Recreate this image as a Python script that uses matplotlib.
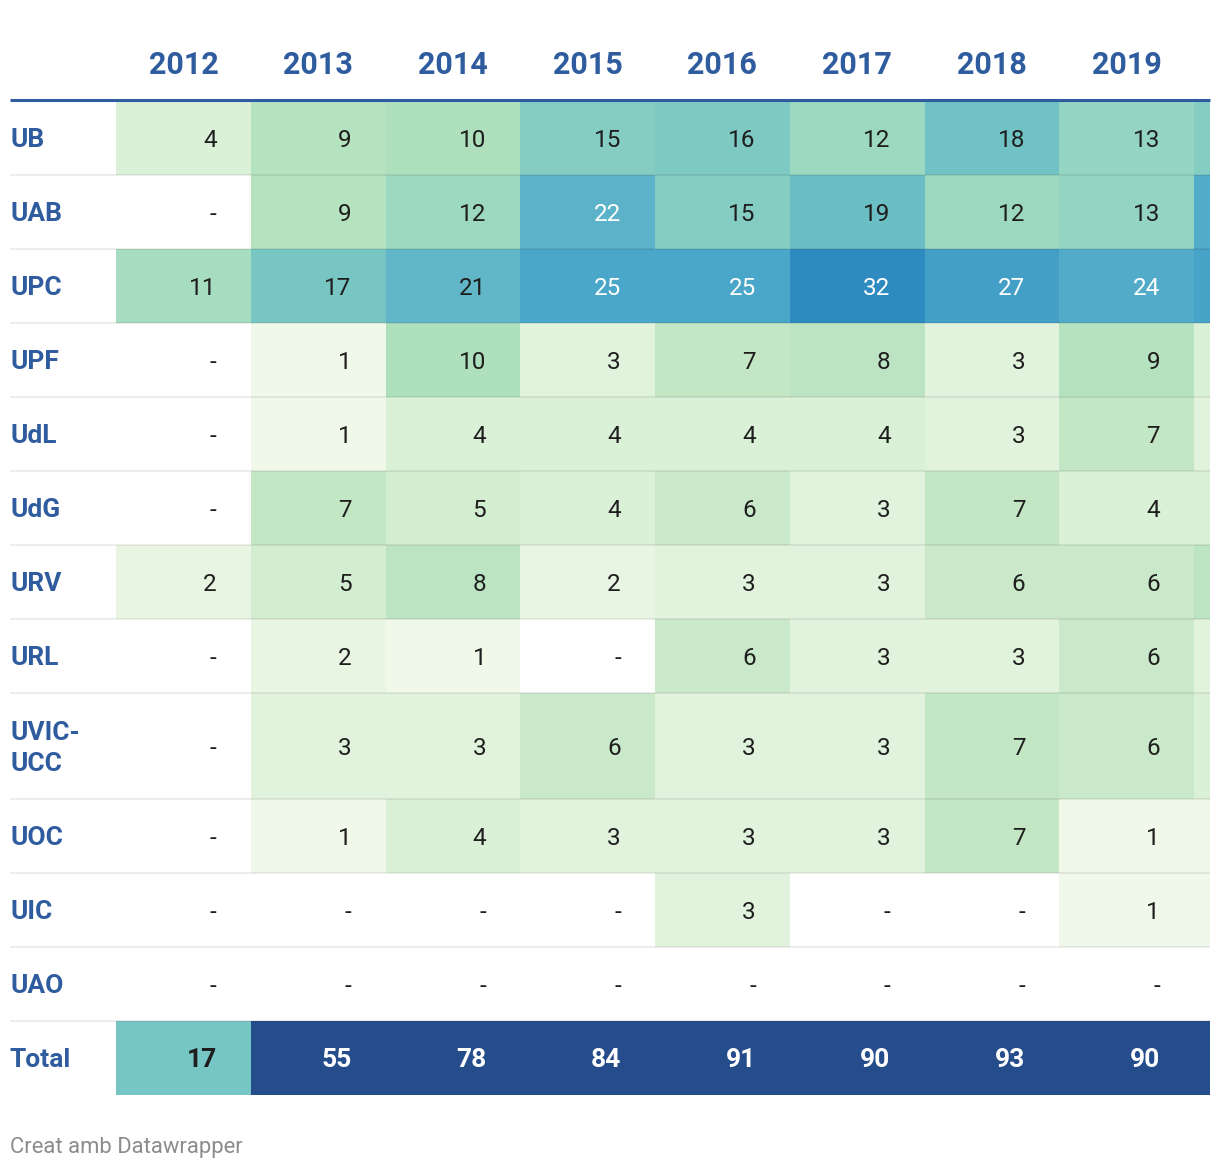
import numpy as np
import matplotlib
matplotlib.use('Agg')
import matplotlib.pyplot as plt
from matplotlib.colors import LinearSegmentedColormap, ListedColormap, BoundaryNorm, Normalize
from matplotlib.patches import Rectangle

plt.rcParams['font.family'] = ['Roboto', 'DejaVu Sans']

# data (0 = no value, shown as "-"); 2020 column is cut off at the right edge
years = ['2012', '2013', '2014', '2015', '2016', '2017', '2018', '2019', '2020']
universities = ['UB', 'UAB', 'UPC', 'UPF', 'UdL', 'UdG', 'URV', 'URL',
                'UVIC-\nUCC', 'UOC', 'UIC', 'UAO']
ub = [4, 9, 10, 15, 16, 12, 18, 13, 15]
uab = [0, 9, 12, 22, 15, 19, 12, 13, 24]
upc = [11, 17, 21, 25, 25, 32, 27, 24, 26]
upf = [0, 1, 10, 3, 7, 8, 3, 9, 4]
udl = [0, 1, 4, 4, 4, 4, 3, 7, 3]
udg = [0, 7, 5, 4, 6, 3, 7, 4, 4]
urv = [2, 5, 8, 2, 3, 3, 6, 6, 8]
url = [0, 2, 1, 0, 6, 3, 3, 6, 3]
uvic = [0, 3, 3, 6, 3, 3, 7, 6, 4]
uoc = [0, 1, 4, 3, 3, 3, 7, 1, 1]
uic = [0, 0, 0, 0, 3, 0, 0, 1, 1]
uao = [0, 0, 0, 0, 0, 0, 0, 0, 0]

values = np.array([ub, uab, upc, upf, udl, udg, urv, url, uvic, uoc, uic, uao])
totals = values.sum(axis=0)

# layout in pixels
W, H = 1220, 1170
LEFT, RIGHT = 10, 1210
COL0, COLW = 116, 134.75
ROW_TOP, ROW_H, LINE_H = 101, 74, 32
PAD = 34
BLUE = '#2f5c9e'
DARK = '#1e1e1e'

heights = [ROW_H + LINE_H * (u.count('\n')) for u in universities] + [ROW_H]
y_edges = ROW_TOP + np.concatenate([[0], np.cumsum(heights)])
x_edges = COL0 + COLW * np.arange(len(years) + 1)

anchors = [(1, '#f0f8e9'), (4, '#d9f0d6'), (7, '#c3e6c4'), (10, '#aee0bd'),
           (13, '#94d4c2'), (16, '#7ecac3'), (19, '#6bbec4'), (22, '#5cb2c8'),
           (25, '#4ba7c9'), (32, '#2e8bc0')]
vmin, vmax = anchors[0][0], anchors[-1][0]
cmap = LinearSegmentedColormap.from_list(
    'gnbu', [((v - vmin) / (vmax - vmin), c) for v, c in anchors])
norm = Normalize(vmin, vmax)
total_cmap = ListedColormap(['#76c6c5', '#254c8b'])
total_norm = BoundaryNorm([0, 50, 1000], 2)

fig = plt.figure(figsize=(W / 100, H / 100), dpi=100)
ax = fig.add_axes([0, 0, 1, 1])
ax.set_xlim(0, W)
ax.set_ylim(H, 0)
ax.axis('off')

clip = Rectangle((LEFT, 0), RIGHT - LEFT, H, transform=ax.transData)
n = len(universities)
mesh = ax.pcolormesh(x_edges, y_edges[:n + 1], np.ma.masked_equal(values, 0),
                     cmap=cmap, norm=norm)
mesh.set_clip_path(clip)
tmesh = ax.pcolormesh(x_edges, y_edges[n:], totals[np.newaxis, :],
                      cmap=total_cmap, norm=total_norm)
tmesh.set_clip_path(clip)

# header (only the columns that fit)
for j, yr in enumerate(years):
    xc = (x_edges[j] + x_edges[j + 1]) / 2
    if xc > RIGHT:
        continue
    ax.text(xc, 74, yr, ha='center', va='baseline',
            fontsize=22, fontweight='bold', color=BLUE)
ax.plot([LEFT, RIGHT], [99.5, 99.5], color=BLUE, lw=2.2, solid_capstyle='butt')

# row separators
for y in y_edges[1:-1]:
    ax.plot([LEFT, RIGHT], [y, y], color='black', alpha=0.07, lw=1.4,
            solid_capstyle='butt')

def px(pt):
    return pt * 100 / 72

row_labels = universities + ['Total']
for i, lab in enumerate(row_labels):
    yc = (y_edges[i] + y_edges[i + 1]) / 2
    lines = lab.split('\n')
    for k, line in enumerate(lines):
        off = (k - (len(lines) - 1) / 2) * 31
        ax.text(10, yc + off + 0.355 * px(19), line, ha='left', va='baseline',
                fontsize=19, fontweight='bold', color=BLUE)
    row = totals if lab == 'Total' else values[i]
    for j, v in enumerate(row):
        xr = x_edges[j + 1] - PAD
        if xr > RIGHT:
            continue
        if lab == 'Total':
            color = 'white' if v >= 50 else DARK
            ax.text(xr, yc + 0.355 * px(19), str(v), ha='right', va='baseline',
                    fontsize=19, fontweight='bold', color=color)
        else:
            s = str(v) if v > 0 else '-'
            color = 'white' if v >= 22 else DARK
            ax.text(xr, yc + 0.355 * px(17.5), s, ha='right', va='baseline',
                    fontsize=17.5, color=color)

ax.text(10, 1153, 'Creat amb Datawrapper', ha='left', va='baseline',
        fontsize=15.8, color='#8c8c8c')

fig.savefig('out.png', dpi=100)
